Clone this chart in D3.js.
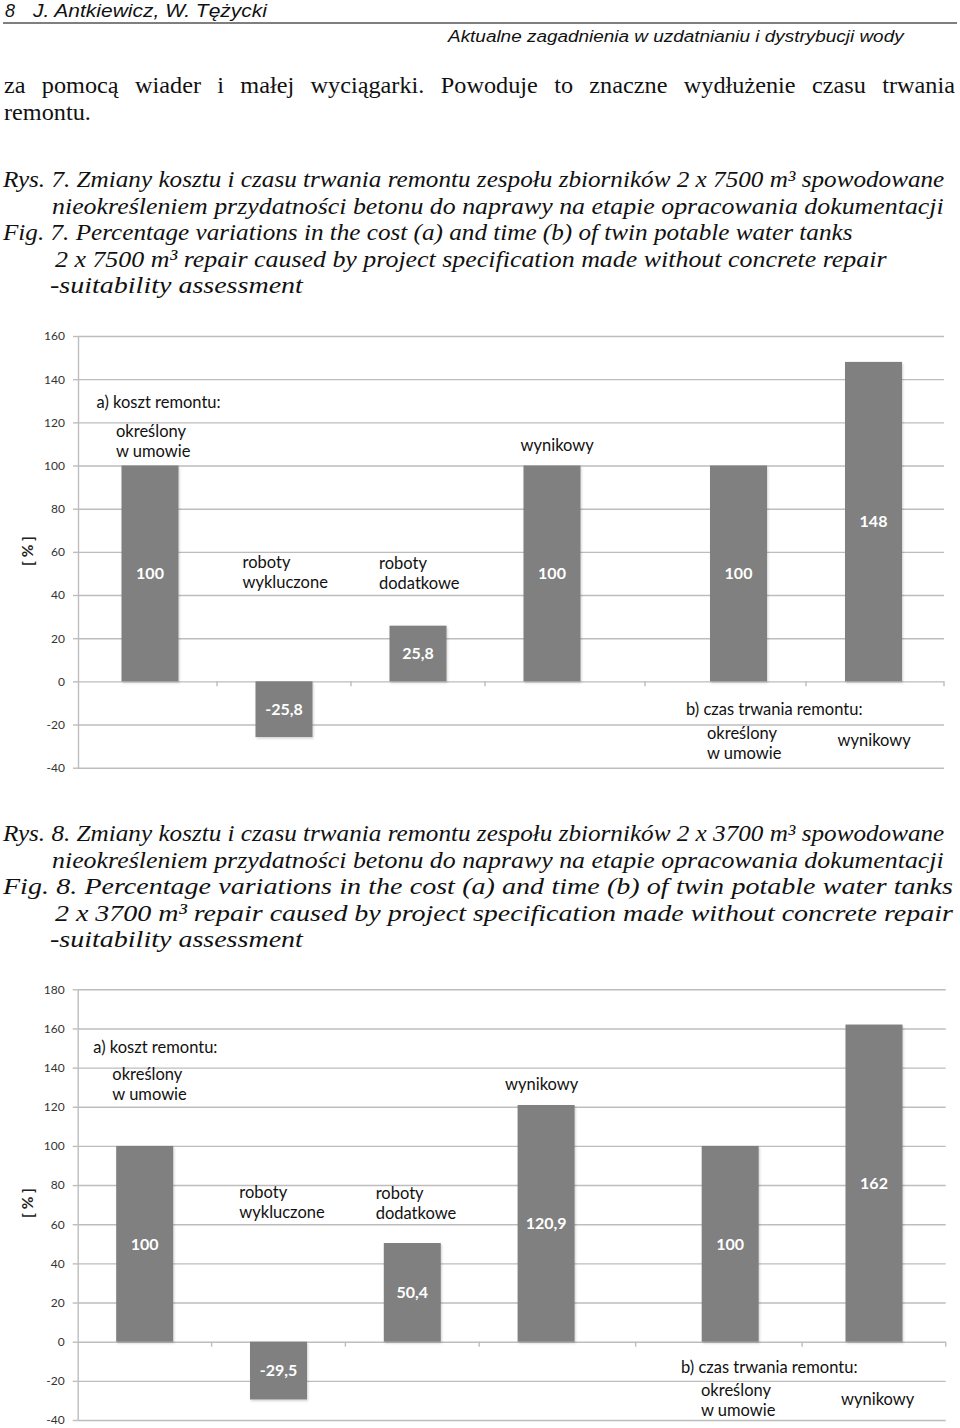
<!DOCTYPE html>
<html>
<head>
<meta charset="utf-8">
<script src="https://cdn.jsdelivr.net/npm/d3@7"></script>
<style>
  body { margin: 0; background: #fff; }
  svg { display: block; }
</style>
</head>
<body>
<script>
// categories shared by both figures
var costCategories = ["określony w umowie", "roboty wykluczone", "roboty dodatkowe", "wynikowy"];
var timeCategories = ["określony w umowie", "wynikowy"];

// Fig. 7 (2 x 7500 m3)
var fig7Cost = [100, -25.8, 25.8, 100];
var fig7Time = [100, 148];
var fig7Ticks = [-40, -20, 0, 20, 40, 60, 80, 100, 120, 140, 160];

// Fig. 8 (2 x 3700 m3)
var fig8Cost = [100, -29.5, 50.4, 120.9];
var fig8Time = [100, 162];
var fig8Ticks = [-40, -20, 0, 20, 40, 60, 80, 100, 120, 140, 160, 180];

var page = (function () {

    "use strict";

    var svg = d3.select("body").append("svg")
        .attr("width", 960)
        .attr("height", 1428);

    var fmt = d3.formatLocale({
        decimal: ",", thousands: " ", grouping: [3], currency: ["", ""], minus: "-"
    }).format(".4~g");

    var chartFont = "Lato, 'Open Sans', sans-serif",
        serifFont = "'Liberation Serif', 'Times New Roman', Times, serif",
        sansFont = "'Liberation Sans', Arial, Helvetica, sans-serif";

    /* page text: each line stretched/condensed to the width seen in the scan */

    function drawLines(lines, font, size, style) {
        var scale = 1;
        // pass 1: plain lines, fitted to width
        lines.forEach(function (l) {
            if (l.justify) { return; }
            var t = svg.append("text")
                .style("font-family", font)
                .attr("font-size", size)
                .attr("font-style", style)
                .attr("fill", "#111")
                .text(l.text);
            var w = t.node().getComputedTextLength();
            scale = (l.x2 - l.x) / w;
            t.attr("transform", "translate(" + l.x + "," + l.y + ") scale(" + scale + ",1)");
        });
        // pass 2: justified lines, words spread across the line
        lines.forEach(function (l) {
            if (!l.justify) { return; }
            var sx = l.sx || scale;
            var words = l.text.split(" ");
            var nodes = words.map(function (wd) {
                return svg.append("text")
                    .style("font-family", font)
                    .attr("font-size", size)
                    .attr("font-style", style)
                    .attr("fill", "#111")
                    .text(wd);
            });
            var widths = nodes.map(function (n) { return n.node().getComputedTextLength() * sx; });
            var gap = (l.x2 - l.x - d3.sum(widths)) / (words.length - 1);
            var x = l.x;
            nodes.forEach(function (n, i) {
                n.attr("transform", "translate(" + x + "," + l.y + ") scale(" + sx + ",1)");
                x += widths[i] + gap;
            });
        });
    }

    function drawHeader() {
        drawLines([
            {text: "8", x: 5, x2: 15, y: 16.5},
            {text: "J. Antkiewicz, W. Tężycki", x: 33, x2: 267, y: 16.5}
        ], sansFont, 18, "italic");

        svg.append("line")
            .attr("x1", 3).attr("x2", 957)
            .attr("y1", 23).attr("y2", 23)
            .attr("stroke", "#555")
            .attr("stroke-width", 1.6);

        drawLines([
            {text: "Aktualne zagadnienia w uzdatnianiu i dystrybucji wody", x: 448, x2: 904, y: 42}
        ], sansFont, 16.5, "italic");

        drawLines([
            {text: "remontu.", x: 4, x2: 91, y: 120},
            {text: "za pomocą wiader i małej wyciągarki. Powoduje to znaczne wydłużenie czasu trwania",
                x: 4, x2: 955, y: 92.5, justify: true}
        ], serifFont, 23, "normal");
    }

    function drawCaption(no, vol, top, justifyFig) {
        var lines = [
            {text: "Rys. " + no + ". Zmiany kosztu i czasu trwania remontu zespołu zbiorników 2 x " + vol + " m³ spowodowane",
                x: 3, x2: 945, y: top},
            {text: "nieokreśleniem przydatności betonu do naprawy na etapie opracowania dokumentacji",
                x: 52, x2: 944, y: top + 26.5},
            {text: "Fig. " + no + ". Percentage variations in the cost (a) and time (b) of twin potable water tanks",
                x: 3, x2: justifyFig ? 953 : 853, y: top + 53, justify: justifyFig},
            {text: "2 x " + vol + " m³ repair caused by project specification made without concrete repair",
                x: 55, x2: justifyFig ? 953 : 887, y: top + 79.5, justify: justifyFig},
            {text: "-suitability assessment", x: 50, x2: 303, y: top + 106}
        ];
        drawLines(lines, serifFont, 24, "italic");
    }

    /* bar chart with two groups: cost (a) and time (b) */

    function bandScale(domain, range, barWidth) {
        var step = (range[1] - range[0]) / domain.length,
            p = 1 - barWidth / step;
        return d3.scaleBand()
            .domain(d3.range(domain.length))
            .range(range)
            .paddingInner(p)
            .paddingOuter(p / 2);
    }

    function drawChart(cfg) {

        var g = svg.append("g"),
            y = d3.scaleLinear().domain(d3.extent(cfg.ticks)).range(cfg.yRange),
            xCost = bandScale(costCategories, cfg.costRange, 57),
            xTime = bandScale(timeCategories, cfg.timeRange, 57),
            grid = "#bdbdbd";

        // gridlines
        g.append("g")
            .attr("transform", "translate(" + cfg.axisX + ",0)")
            .call(d3.axisLeft(y).tickValues(cfg.ticks).tickSize(-(cfg.gridRight - cfg.axisX)).tickFormat(""))
            .call(function (s) {
                s.select(".domain").remove();
                s.selectAll("line").attr("stroke", grid).attr("stroke-width", 1.4);
            });

        // y axis with outside ticks + labels
        g.append("g")
            .attr("transform", "translate(" + cfg.axisX + ",0)")
            .call(d3.axisLeft(y).tickValues(cfg.ticks).tickSizeInner(5).tickSizeOuter(0).tickPadding(8).tickFormat(fmt))
            .call(function (s) {
                s.select(".domain").attr("stroke", grid).attr("stroke-width", 1.4);
                s.selectAll("line").attr("stroke", grid).attr("stroke-width", 1.4);
                s.selectAll("text")
                    .attr("font-family", chartFont)
                    .attr("font-size", 12)
                    .attr("fill", "#333");
            });

        // small category tick marks under the zero line
        var cStep = xCost.step(), tStep = xTime.step(),
            marks = d3.range(1, costCategories.length).map(function (i) { return cfg.costRange[0] + i * cStep; })
                .concat([(cfg.costRange[1] + cfg.timeRange[0]) / 2])
                .concat(d3.range(1, timeCategories.length).map(function (i) { return cfg.timeRange[0] + i * tStep; }))
                .concat([cfg.gridRight]);
        g.selectAll(".cat-tick")
            .data(marks)
            .enter()
            .append("line")
            .attr("class", "cat-tick")
            .attr("x1", function (d) { return d; })
            .attr("x2", function (d) { return d; })
            .attr("y1", y(0))
            .attr("y2", y(0) + 5)
            .attr("stroke", grid)
            .attr("stroke-width", 1.4);

        var bars = cfg.cost.map(function (v, i) { return {v: v, x: xCost(i), w: xCost.bandwidth()}; })
            .concat(cfg.time.map(function (v, i) { return {v: v, x: xTime(i), w: xTime.bandwidth()}; }));

        g.selectAll(".bar")
            .data(bars)
            .enter()
            .append("rect")
            .attr("class", "bar")
            .attr("x", function (d) { return d.x; })
            .attr("y", function (d) { return y(Math.max(0, d.v)); })
            .attr("width", function (d) { return d.w; })
            .attr("height", function (d) { return Math.abs(y(d.v) - y(0)); })
            .attr("fill", "#808080")
            .attr("filter", "url(#shadow)");

        g.selectAll(".val")
            .data(bars)
            .enter()
            .append("text")
            .attr("class", "val")
            .attr("x", function (d) { return d.x + d.w / 2; })
            .attr("y", function (d) { return y(d.v / 2); })
            .attr("dy", "0.36em")
            .attr("text-anchor", "middle")
            .attr("font-family", chartFont)
            .attr("font-size", 16)
            .attr("font-weight", "bold")
            .attr("fill", "#fff")
            .text(function (d) { return fmt(d.v); });

        // axis title
        g.append("text")
            .attr("transform", "translate(" + cfg.yLabel[0] + "," + cfg.yLabel[1] + ") rotate(-90)")
            .attr("text-anchor", "middle")
            .attr("dy", "0.35em")
            .attr("font-family", chartFont)
            .attr("font-size", 15.5)
            .attr("font-weight", "bold")
            .attr("fill", "#222")
            .text("[ % ]");

        // free text boxes of the original chart (two-line boxes kept apart a little)
        var noteSize = 16.5, lead = 20;
        cfg.notes.forEach(function (n) {
            var t = g.append("text")
                .attr("font-family", chartFont)
                .attr("font-size", noteSize)
                .attr("fill", "#111");
            var shift = (n.lines.length - 1) * (lead - 16) / 2;
            n.lines.forEach(function (line, i) {
                t.append("tspan")
                    .attr("x", n.x)
                    .attr("y", n.y - shift + i * lead)
                    .text(line);
            });
        });
    }

    function render() {
        var defs = svg.append("defs");
        defs.append("filter")
            .attr("id", "shadow")
            .attr("x", "-10%").attr("y", "-10%").attr("width", "130%").attr("height", "130%")
            .append("feDropShadow")
            .attr("dx", 1).attr("dy", 1.5).attr("stdDeviation", 1)
            .attr("flood-color", "#000").attr("flood-opacity", 0.18);

        drawHeader();
        drawCaption(7, 7500, 187, false);
        drawCaption(8, 3700, 841, true);

        drawChart({
            cost: fig7Cost, time: fig7Time, ticks: fig7Ticks,
            yRange: [767.7, 336], axisX: 78, gridRight: 944,
            costRange: [83, 619], timeRange: [671, 941], yLabel: [28, 551],
            notes: [
                {lines: ["a) koszt remontu:"], x: 96.5, y: 408},
                {lines: ["określony", "w umowie"], x: 116, y: 439},
                {lines: ["roboty", "wykluczone"], x: 242.5, y: 570},
                {lines: ["roboty", "dodatkowe"], x: 379, y: 571},
                {lines: ["wynikowy"], x: 520.5, y: 451},
                {lines: ["b) czas trwania remontu:"], x: 686, y: 715},
                {lines: ["określony", "w umowie"], x: 707, y: 741},
                {lines: ["wynikowy"], x: 837.5, y: 746}
            ]
        });

        drawChart({
            cost: fig8Cost, time: fig8Time, ticks: fig8Ticks,
            yRange: [1420, 989.3], axisX: 77.7, gridRight: 945.7,
            costRange: [77.8, 613], timeRange: [658.3, 945.9], yLabel: [28, 1203],
            notes: [
                {lines: ["a) koszt remontu:"], x: 93.3, y: 1053},
                {lines: ["określony", "w umowie"], x: 112.3, y: 1082},
                {lines: ["roboty", "wykluczone"], x: 239.3, y: 1200},
                {lines: ["roboty", "dodatkowe"], x: 375.7, y: 1200.5},
                {lines: ["wynikowy"], x: 505, y: 1090},
                {lines: ["b) czas trwania remontu:"], x: 681, y: 1373},
                {lines: ["określony", "w umowie"], x: 701, y: 1397.5},
                {lines: ["wynikowy"], x: 841, y: 1405}
            ]
        });
    }

    return {
        render: render
    };

}());

page.render();
</script>
</body>
</html>
